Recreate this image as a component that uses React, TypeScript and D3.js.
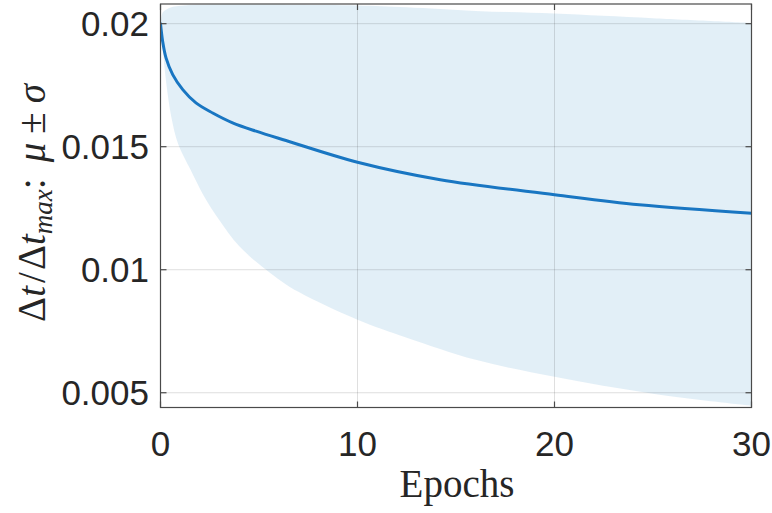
import React from "react";
import * as d3 from "d3";

// ---- data ----
const bandEpochs = [0, 0.11, 0.28, 0.55, 0.9, 1.5, 2.2, 3, 4, 5.6, 7, 10, 12.5, 16, 20, 25, 30];
const bandUpper = [0.02, 0.02045, 0.02057, 0.02067, 0.02072, 0.02076, 0.02077, 0.02078, 0.02078, 0.02078, 0.02077, 0.02074, 0.02067, 0.02052, 0.02041, 0.02022, 0.02003];
const bandLower = [0.02, 0.019, 0.01766, 0.0162, 0.0151, 0.0141, 0.013, 0.012, 0.01095, 0.00985, 0.0091, 0.00797, 0.00724, 0.00634, 0.00565, 0.00496, 0.00447];

const meanEpochs = [0, 0.11, 0.28, 0.62, 1.13, 1.8, 2.65, 3.66, 4.85, 6.37, 10, 14.2, 20, 24.3, 30];
const meanValues = [0.02, 0.01928, 0.01861, 0.01793, 0.01732, 0.01678, 0.01637, 0.01597, 0.01563, 0.01525, 0.01437, 0.01366, 0.01305, 0.01264, 0.0123];

const xTicks = [0, 10, 20, 30];
const yTicks = [0.005, 0.01, 0.015, 0.02];
const yTickLabels = ["0.005", "0.01", "0.015", "0.02"];

const W = 772;
const H = 513;
const left = 160.5;
const right = 751.5;
const top = 4;
const bottom = 407.5;

export default function App() {
  const x = d3.scaleLinear().domain([0, 30]).range([left, right]);
  const y = d3.scaleLinear().domain([0.0044, 0.0208]).range([bottom, top]);

  const band = bandEpochs.map((t, i) => ({ t, hi: bandUpper[i], lo: bandLower[i] }));
  const mean = meanEpochs.map((t, i) => ({ t, v: meanValues[i] }));

  const area = d3
    .area<{ t: number; hi: number; lo: number }>()
    .x((d) => x(d.t))
    .y0((d) => y(d.lo))
    .y1((d) => y(d.hi))
    .curve(d3.curveCatmullRom.alpha(0.5));

  const line = d3
    .line<{ t: number; v: number }>()
    .x((d) => x(d.t))
    .y((d) => y(d.v))
    .curve(d3.curveCatmullRom.alpha(0.5));

  const gridColor = "rgba(38,38,38,0.15)";
  const axisColor = "#4a4a4a";
  const tickLen = 6;
  const tickFont = "'Liberation Sans', Arial, sans-serif";
  const serif = "'Liberation Serif', 'Times New Roman', serif";

  return (
    <svg
      width={W}
      height={H}
      style={{ position: "absolute", left: 0, top: 0, background: "#fff" }}
    >
      <defs>
        <clipPath id="plotclip">
          <rect x={left} y={top} width={right - left} height={bottom - top} />
        </clipPath>
      </defs>
      <g clipPath="url(#plotclip)">
        <path d={area(band) || ""} fill="#0072BD" fillOpacity={0.115} stroke="none" />
        {xTicks.map((t) => (
          <line key={"gx" + t} x1={x(t)} x2={x(t)} y1={top} y2={bottom} stroke={gridColor} strokeWidth={1} />
        ))}
        {yTicks.map((t) => (
          <line key={"gy" + t} x1={left} x2={right} y1={y(t)} y2={y(t)} stroke={gridColor} strokeWidth={1} />
        ))}
        <path d={line(mean) || ""} fill="none" stroke="#1976c2" strokeWidth={3} strokeLinecap="round" />
      </g>

      {/* box */}
      <rect x={left} y={top} width={right - left} height={bottom - top} fill="none" stroke={axisColor} strokeWidth={1.2} />

      {/* ticks */}
      {xTicks.map((t) => (
        <g key={"tx" + t}>
          <line x1={x(t)} x2={x(t)} y1={bottom} y2={bottom - tickLen} stroke={axisColor} strokeWidth={1.2} />
          <line x1={x(t)} x2={x(t)} y1={top} y2={top + tickLen} stroke={axisColor} strokeWidth={1.2} />
          <text
            x={x(t)}
            y={456}
            textAnchor="middle"
            fontFamily={tickFont}
            fontSize={35}
            fill="#262626"
          >
            {t}
          </text>
        </g>
      ))}
      {yTicks.map((t, i) => (
        <g key={"ty" + t}>
          <line x1={left} x2={left + tickLen} y1={y(t)} y2={y(t)} stroke={axisColor} strokeWidth={1.2} />
          <line x1={right} x2={right - tickLen} y1={y(t)} y2={y(t)} stroke={axisColor} strokeWidth={1.2} />
          <text
            x={149}
            y={y(t) + 12.5}
            textAnchor="end"
            fontFamily={tickFont}
            fontSize={35}
            fill="#262626"
          >
            {yTickLabels[i]}
          </text>
        </g>
      ))}

      {/* x label */}
      <text x={457} y={497} textAnchor="middle" fontFamily={serif} fontSize={39} fill="#262626">
        Epochs
      </text>

      {/* y label */}
      <text
        transform={`translate(45, ${203}) rotate(-90)`}
        textAnchor="middle"
        fontFamily={serif}
        fontSize={39}
        fill="#262626"
      >
        <tspan>Δ</tspan>
        <tspan fontStyle="italic">t</tspan>
        <tspan dx={3}>/</tspan>
        <tspan dx={2}>Δ</tspan>
        <tspan fontStyle="italic">t</tspan>
        <tspan fontStyle="italic" fontSize={27} dy={7}>max</tspan>
        <tspan dy={-7}>:</tspan>
        <tspan fontStyle="italic" dx={16}>μ</tspan>
        <tspan dx={9}>±</tspan>
        <tspan fontStyle="italic" dx={9}>σ</tspan>
      </text>
    </svg>
  );
}
